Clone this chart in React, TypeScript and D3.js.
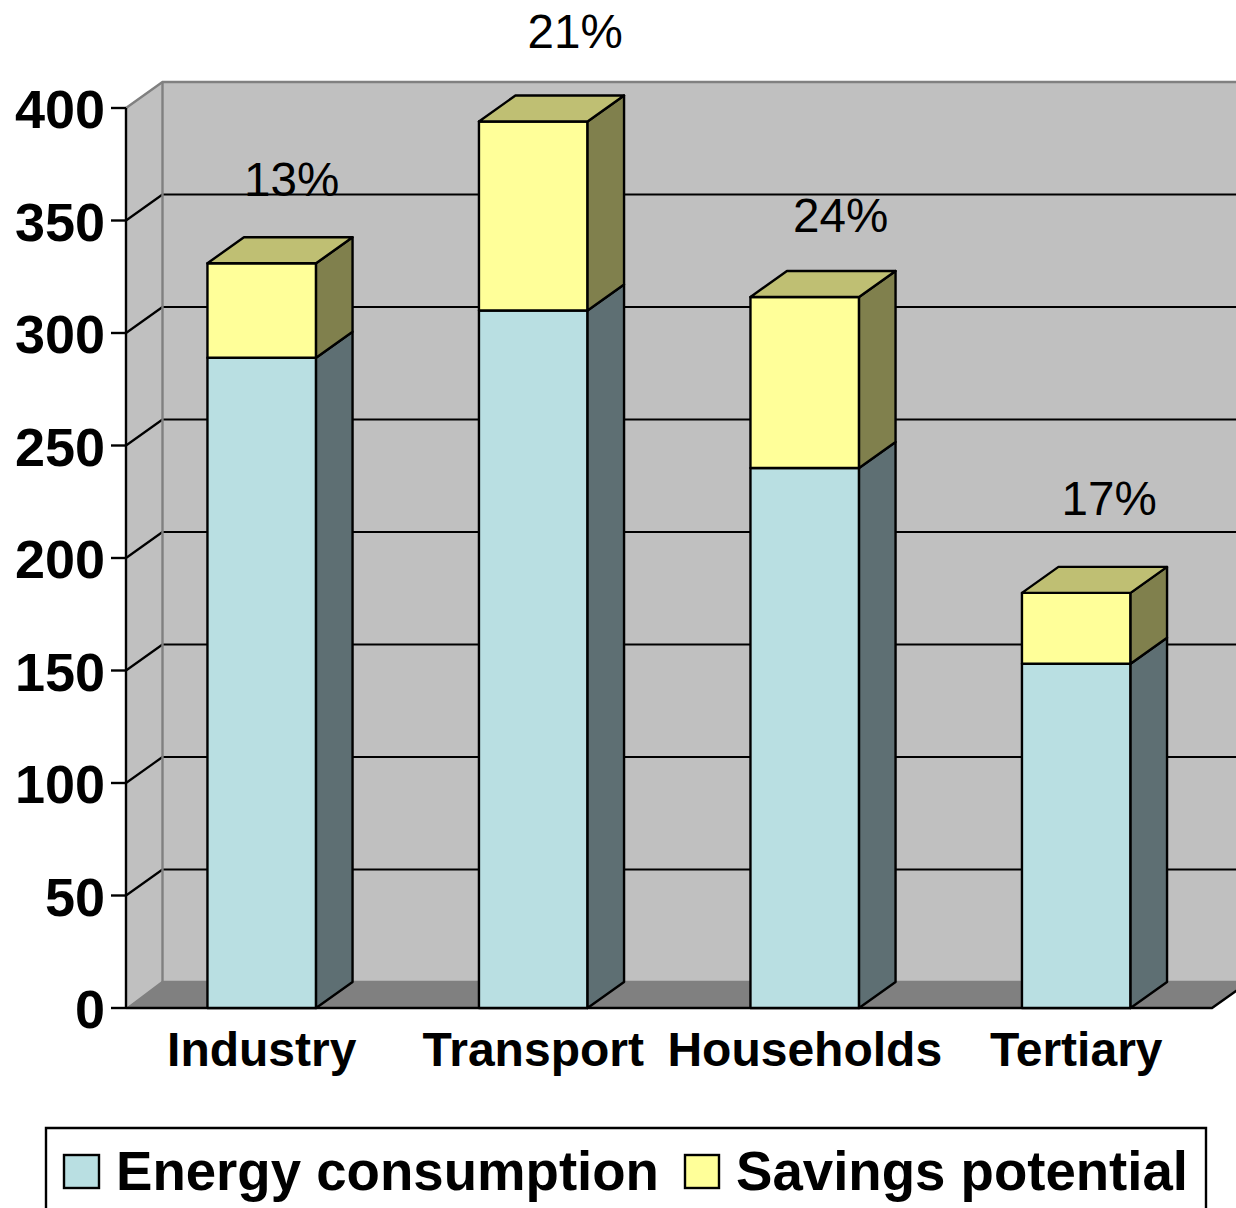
import React from "react";
import * as d3 from "d3";

const categories = ["Industry", "Transport", "Households", "Tertiary"];
const consumption = [289, 310, 240, 153];
const savings = [42, 84, 76, 31.5];
const percentLabels = ["13%", "21%", "24%", "17%"];
const percentPositions = [
  { value: 361, offset: 30 },
  { value: 426.5, offset: 42 },
  { value: 345, offset: 36 },
  { value: 219, offset: 33 },
];
const yTicks = [0, 50, 100, 150, 200, 250, 300, 350, 400];
const legendItems = ["Energy consumption", "Savings potential"];

const FONT = "'Liberation Sans', Arial, sans-serif";
const DX = 36.5;
const DY = -26;

export default function App() {
  const y = d3.scaleLinear().domain([0, 400]).range([1008, 108]);
  const x = d3.scaleBand<string>().domain(categories).range([126, 1212]).paddingInner(0.6).paddingOuter(0.3);
  const y0 = y(0);
  const yTop = y(400);
  const left = 126;
  const right = 1212;
  const line = d3.line();
  const poly = (p: [number, number][]) => line(p) + "Z";

  const segment = (key: string, bx: number, w: number, a: number, b: number, front: string, side: string, topFill: string | null) => {
    const ya = y(a);
    const yb = y(b);
    return (
      <g key={key} stroke="#000" strokeWidth={2.4} strokeLinejoin="round">
        <path d={poly([[bx, ya], [bx + w, ya], [bx + w, yb], [bx, yb]])} fill={front} />
        <path d={poly([[bx + w, ya], [bx + w + DX, ya + DY], [bx + w + DX, yb + DY], [bx + w, yb]])} fill={side} />
        {topFill && <path d={poly([[bx, yb], [bx + w, yb], [bx + w + DX, yb + DY], [bx + DX, yb + DY]])} fill={topFill} />}
      </g>
    );
  };

  return (
    <svg width={1236} height={1208} style={{ position: "absolute", left: 0, top: 0, background: "#fff" }} fontFamily={FONT}>
      {/* back wall */}
      <path d={poly([[left + DX, yTop + DY], [1240, yTop + DY], [1240, y0 + DY], [left + DX, y0 + DY]])} fill="#c0c0c0" />
      {/* side wall */}
      <path d={poly([[left, yTop], [left + DX, yTop + DY], [left + DX, y0 + DY], [left, y0]])} fill="#c0c0c0" />
      {/* floor */}
      <path d={poly([[left, y0], [left + DX, y0 + DY], [right + DX, y0 + DY], [right, y0]])} fill="#808080" />
      {/* gridlines */}
      {yTicks.filter((t) => t > 0 && t < 400).map((t) => (
        <g key={t} stroke="#000" strokeWidth={2.2} fill="none">
          <line x1={left} y1={y(t)} x2={left + DX} y2={y(t) + DY} />
          <line x1={left + DX} y1={y(t) + DY} x2={1240} y2={y(t) + DY} />
        </g>
      ))}
      {/* wall edges */}
      <g stroke="#808080" strokeWidth={2.4} fill="none">
        <path d={line([[left, yTop], [left + DX, yTop + DY], [1240, yTop + DY]]) as string} />
        <line x1={left + DX} y1={yTop + DY} x2={left + DX} y2={y0 + DY} />
        <path d={line([[left + 2, y0], [left + DX, y0 + DY], [1240, y0 + DY]]) as string} />
      </g>
      {/* axes */}
      <g stroke="#000" strokeWidth={2.4} fill="none">
        <line x1={left} y1={yTop} x2={left} y2={y0} />
        <path d={line([[left, y0], [right, y0], [right + DX, y0 + DY]]) as string} />
        {yTicks.map((t) => (
          <line key={t} x1={left - 15} y1={y(t)} x2={left} y2={y(t)} />
        ))}
      </g>
      {yTicks.map((t) => (
        <text key={t} x={105} y={y(t) + 1} dy="0.36em" textAnchor="end" fontSize={54} fontWeight="bold" fill="#000">
          {t}
        </text>
      ))}
      {/* bars */}
      {categories.map((c, i) => {
        const bx = x(c) as number;
        const w = x.bandwidth();
        return (
          <g key={c}>
            {segment(c + "-a", bx, w, 0, consumption[i], "#b9dfe2", "#5e6f73", null)}
            {segment(c + "-b", bx, w, consumption[i], consumption[i] + savings[i], "#ffff99", "#80804d", "#bfbf73")}
          </g>
        );
      })}
      {/* category labels */}
      {categories.map((c) => (
        <text key={c} x={(x(c) as number) + x.bandwidth() / 2} y={1066} textAnchor="middle" fontSize={48} fontWeight="bold" fill="#000">
          {c}
        </text>
      ))}
      {/* percent labels */}
      {percentLabels.map((p, i) => (
        <text key={p} x={(x(categories[i]) as number) + x.bandwidth() / 2 + percentPositions[i].offset} y={y(percentPositions[i].value)} textAnchor="middle" fontSize={47.6} fill="#000">
          {p}
        </text>
      ))}
      {/* legend */}
      <path d="M46 1212V1128H1206V1212" fill="#fff" stroke="#000" strokeWidth={2.4} />
      <rect x={64} y={1155} width={35} height={33} fill="#b9dfe2" stroke="#000" strokeWidth={2.4} />
      <text x={116} y={1190} fontSize={54.6} fontWeight="bold" fill="#000">{legendItems[0]}</text>
      <rect x={685} y={1155} width={34} height={33} fill="#ffff99" stroke="#000" strokeWidth={2.4} />
      <text x={736} y={1190} fontSize={54.6} fontWeight="bold" fill="#000">{legendItems[1]}</text>
    </svg>
  );
}
